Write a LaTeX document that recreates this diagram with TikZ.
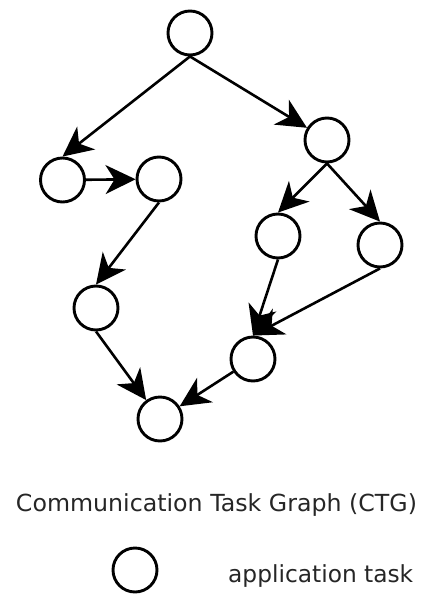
\documentclass[tikz,border=0pt]{standalone}
\usepackage{fontspec}
\usepackage{graphicx}
\setmainfont{DejaVu Sans}
\usetikzlibrary{arrows.meta}
\begin{document}
\begin{tikzpicture}[x=1pt,y=-1pt,
  task/.style={circle,draw=black,line width=2.9pt,minimum size=44pt,inner sep=0pt},
  flow/.style={line width=2.6pt,-{Stealth[length=30pt,width=29pt,inset=9pt]}},
  label/.style={inner sep=0pt,text=black!85,font=\fontsize{23.5}{28}\selectfont}]
\useasboundingbox (0,0) rectangle (423,595);

% task nodes
\node[task] (t1) at (190,33) {};
\node[task] (t2) at (62.5,180) {};
\node[task] (t3) at (159,179) {};
\node[task] (t4) at (327,140) {};
\node[task] (t5) at (278,236) {};
\node[task] (t6) at (380,245) {};
\node[task] (t7) at (96,308) {};
\node[task] (t8) at (253,359) {};
\node[task] (t9) at (160,419) {};

% dependencies
\draw[flow] (t1.south) -- (t2.north);
\draw[flow] (t1.south) -- (t4);
\draw[flow] (t2) -- (t3);
\draw[flow] (t3.south) -- (t7.north);
\draw[flow] (t7.south) -- (t9);
\draw[flow] (t4.south) -- (t5.north);
\draw[flow] (t4.south) -- (t6.north);
\draw[flow] (t5.south) -- (t8.north);
\draw[flow] (t6.south) -- (t8.north);
\draw[flow] (t8) -- (t9);

% caption and legend
\node[label,anchor=base] (title) at (216.5,511) {\resizebox{401pt}{\height}{Communication Task Graph (CTG)}};
\node[task] (legend) at (135,570) {};
\node[label,anchor=base west] (legendtext) at (228,582) {\resizebox{185pt}{\height}{application task}};
\end{tikzpicture}
\end{document}
